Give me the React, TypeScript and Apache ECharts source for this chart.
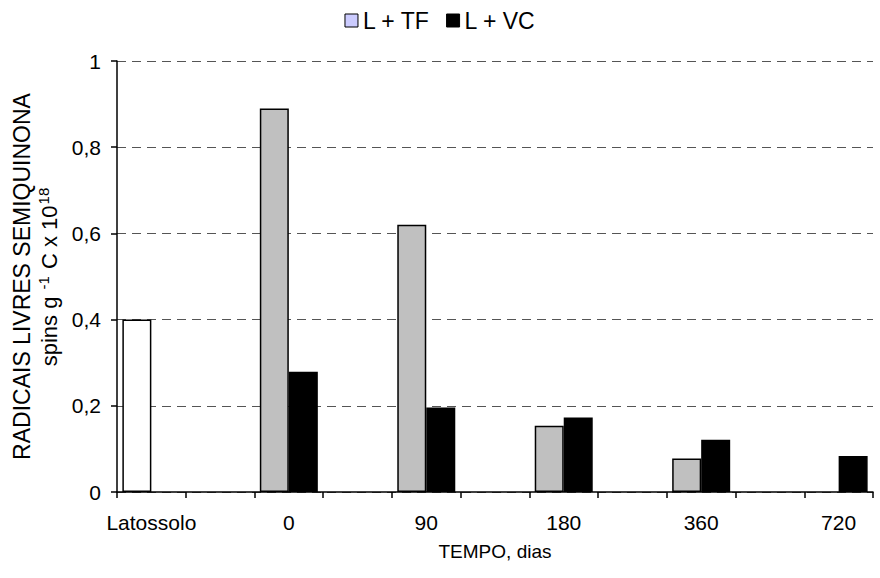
import React, { useEffect, useRef } from "react";
import * as echarts from "echarts";

const categories = ["Latossolo", "_a", "0", "_b", "90", "_c", "180", "_d", "360", "_e", "720"];
const seriesNames = ["L + TF", "L + VC"];
const tfValues: (number | null)[] = [0.4, null, 0.89, null, 0.62, null, 0.154, null, 0.078, null, null];
const vcValues: (number | null)[] = [null, null, 0.279, null, 0.196, null, 0.173, null, 0.121, null, 0.0835];
const yTicks = [0, 0.2, 0.4, 0.6, 0.8, 1];

const FONT = "Liberation Sans, Arial, sans-serif";

export default function App() {
  const ref = useRef<HTMLDivElement>(null);
  useEffect(() => {
    if (!ref.current) return;
    const chart = echarts.init(ref.current, undefined, { renderer: "svg" });
    const tfData = tfValues.map((v, i) =>
      i === 0 && v !== null ? { value: v, itemStyle: { color: "#ffffff" } } : v
    );
    chart.setOption({
      animation: false,
      backgroundColor: "#ffffff",
      textStyle: { fontFamily: FONT, color: "#000" },
      legend: {
        top: 4,
        left: "center",
        itemWidth: 13,
        itemHeight: 13,
        itemGap: 16,
        icon: "rect",
        textStyle: { fontSize: 23, fontFamily: FONT, color: "#000" },
        data: [
          { name: seriesNames[0], itemStyle: { color: "#CCCCFF", borderColor: "#000", borderWidth: 1 } },
          { name: seriesNames[1], itemStyle: { color: "#000", borderColor: "#000", borderWidth: 1 } },
        ],
      },
      grid: { left: 117, right: 7, top: 61, bottom: 86, containLabel: false },
      xAxis: {
        type: "category",
        data: categories,
        name: "TEMPO, dias",
        nameLocation: "middle",
        nameGap: 50,
        nameTextStyle: { fontSize: 19, fontFamily: FONT, color: "#000" },
        axisLine: { lineStyle: { color: "#000", width: 1.5 } },
        axisTick: { show: true, interval: 0, length: 6, inside: false, lineStyle: { color: "#000", width: 1.5 } },
        axisLabel: {
          interval: 1,
          fontSize: 21,
          fontFamily: FONT,
          color: "#000",
          margin: 20,
          formatter: (v: string) => (v.startsWith("_") ? "" : v),
        },
        splitLine: { show: false },
      },
      yAxis: {
        type: "value",
        min: yTicks[0],
        max: yTicks[yTicks.length - 1],
        interval: 0.2,
        name: "{a|RADICAIS LIVRES SEMIQUINONA}\n{b|spins g }{s|-1}{b| C x 10}{s|18}",
        nameLocation: "middle",
        nameRotate: 90,
        nameGap: 52,
        nameTextStyle: {
          fontFamily: FONT,
          color: "#000",
          rich: {
            a: { fontSize: 23, fontFamily: FONT, color: "#000", lineHeight: 28 },
            b: { fontSize: 22, fontFamily: FONT, color: "#000", lineHeight: 28 },
            s: { fontSize: 15, fontFamily: FONT, color: "#000", lineHeight: 28, verticalAlign: "top", padding: [0, 1, 10, 1] },
          },
        },
        axisLine: { show: true, lineStyle: { color: "#000", width: 1.5 } },
        axisTick: { show: true, length: 6, inside: false, lineStyle: { color: "#000", width: 1.5 } },
        axisLabel: {
          fontSize: 21,
          fontFamily: FONT,
          color: "#000",
          margin: 16,
          formatter: (v: number) => String(Math.round(v * 10) / 10).replace(".", ","),
        },
        splitLine: { show: true, lineStyle: { color: "#555", type: [9, 6], width: 1.2 } },
      },
      series: [
        {
          name: seriesNames[0],
          type: "bar",
          data: tfData,
          barWidth: 29,
          barGap: "0%",
          itemStyle: { color: "#C0C0C0", borderColor: "#000", borderWidth: 1.5 },
        },
        {
          name: seriesNames[1],
          type: "bar",
          data: vcValues,
          barWidth: 29,
          barGap: "0%",
          itemStyle: { color: "#000000", borderColor: "#000", borderWidth: 1.5 },
        },
      ],
    });
    return () => chart.dispose();
  }, []);
  return <div ref={ref} style={{ width: 880, height: 578, position: "absolute", left: 0, top: 0 }} />;
}
